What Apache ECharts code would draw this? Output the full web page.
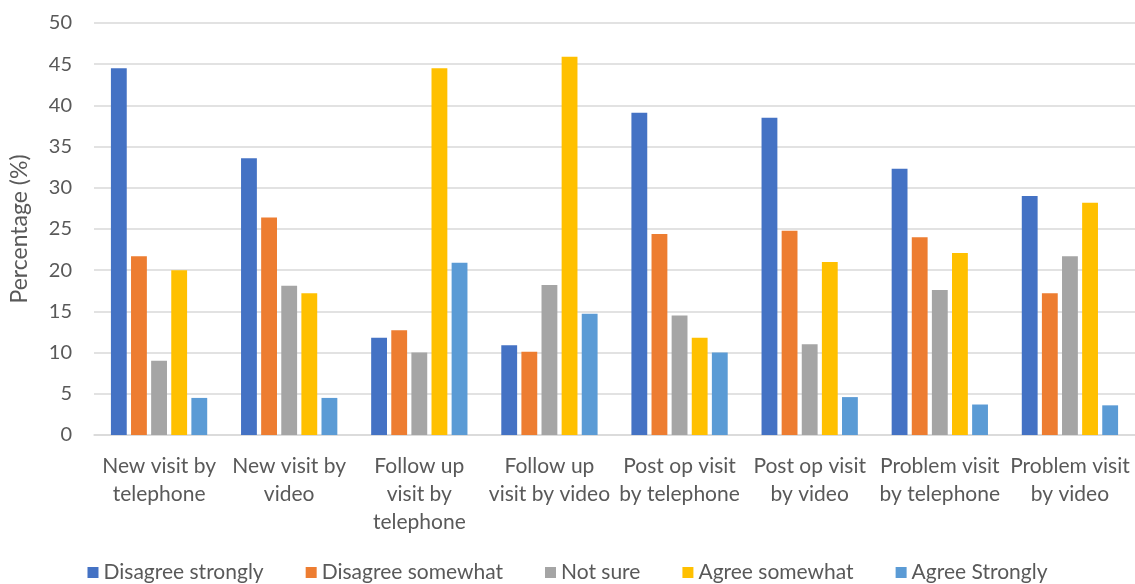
<!DOCTYPE html>
<html>
<head>
<meta charset="utf-8">
<script src="https://cdn.jsdelivr.net/npm/echarts@6/dist/echarts.min.js"></script>
<style>html,body{margin:0;padding:0;background:#fff}#c{width:1135px;height:584px}</style>
</head>
<body>
<div id="c"></div>
<script>
const categories = ["New visit by\ntelephone", "New visit by\nvideo", "Follow up\nvisit by\ntelephone", "Follow up\nvisit by video", "Post op visit\nby telephone", "Post op visit\nby video", "Problem visit\nby telephone", "Problem visit\nby video"];
const seriesNames = ["Disagree strongly", "Disagree somewhat", "Not sure", "Agree somewhat", "Agree Strongly"];
const disagreeStrongly = [44.5, 33.6, 11.8, 10.9, 39.1, 38.5, 32.3, 29.0];
const disagreeSomewhat = [21.7, 26.4, 12.7, 10.1, 24.4, 24.8, 24.0, 17.2];
const notSure = [9.0, 18.1, 10.0, 18.2, 14.5, 11.0, 17.6, 21.7];
const agreeSomewhat = [20.0, 17.2, 44.5, 45.9, 11.8, 21.0, 22.1, 28.2];
const agreeStrongly = [4.5, 4.5, 20.9, 14.7, 10.0, 4.6, 3.7, 3.6];
const yTicks = [0, 5, 10, 15, 20, 25, 30, 35, 40, 45, 50];

const colors = ["#4472C4", "#ED7D31", "#A5A5A5", "#FFC000", "#5B9BD5"];
const allData = [disagreeStrongly, disagreeSomewhat, notSure, agreeSomewhat, agreeStrongly];
const font = "Lato, sans-serif";

const chart = echarts.init(document.getElementById('c'), null, {renderer: 'canvas'});
chart.setOption({
  animation: false,
  color: colors,
  textStyle: {fontFamily: font},
  grid: {left: 89, right: 0, top: 23, bottom: 149, containLabel: false},
  legend: {
    data: seriesNames,
    left: 'center',
    top: 562,
    itemWidth: 11,
    itemHeight: 11,
    itemGap: 42,
    icon: 'rect',
    padding: 0,
    textStyle: {fontSize: 21, color: '#595959', fontFamily: font}
  },
  xAxis: {
    type: 'category',
    data: categories,
    axisTick: {show: false},
    axisLine: {lineStyle: {color: '#d9d9d9', width: 1.5}},
    axisLabel: {fontSize: 21, color: '#595959', lineHeight: 28, margin: 17, interval: 0, fontFamily: font}
  },
  yAxis: {
    type: 'value',
    min: yTicks[0],
    max: yTicks[yTicks.length - 1],
    interval: 5,
    name: 'Percentage (%)',
    nameLocation: 'middle',
    nameGap: 63,
    nameTextStyle: {fontSize: 23, color: '#595959', fontFamily: font},
    axisLabel: {fontSize: 20, color: '#595959', margin: 22, fontFamily: font},
    splitLine: {lineStyle: {color: '#d9d9d9', width: 1.5}},
    axisLine: {show: false},
    axisTick: {show: false}
  },
  series: seriesNames.map((n, i) => ({
    name: n,
    type: 'bar',
    data: allData[i],
    barGap: '27%',
    barCategoryGap: '26%',
    itemStyle: {color: colors[i]}
  }))
});
</script>
</body>
</html>
